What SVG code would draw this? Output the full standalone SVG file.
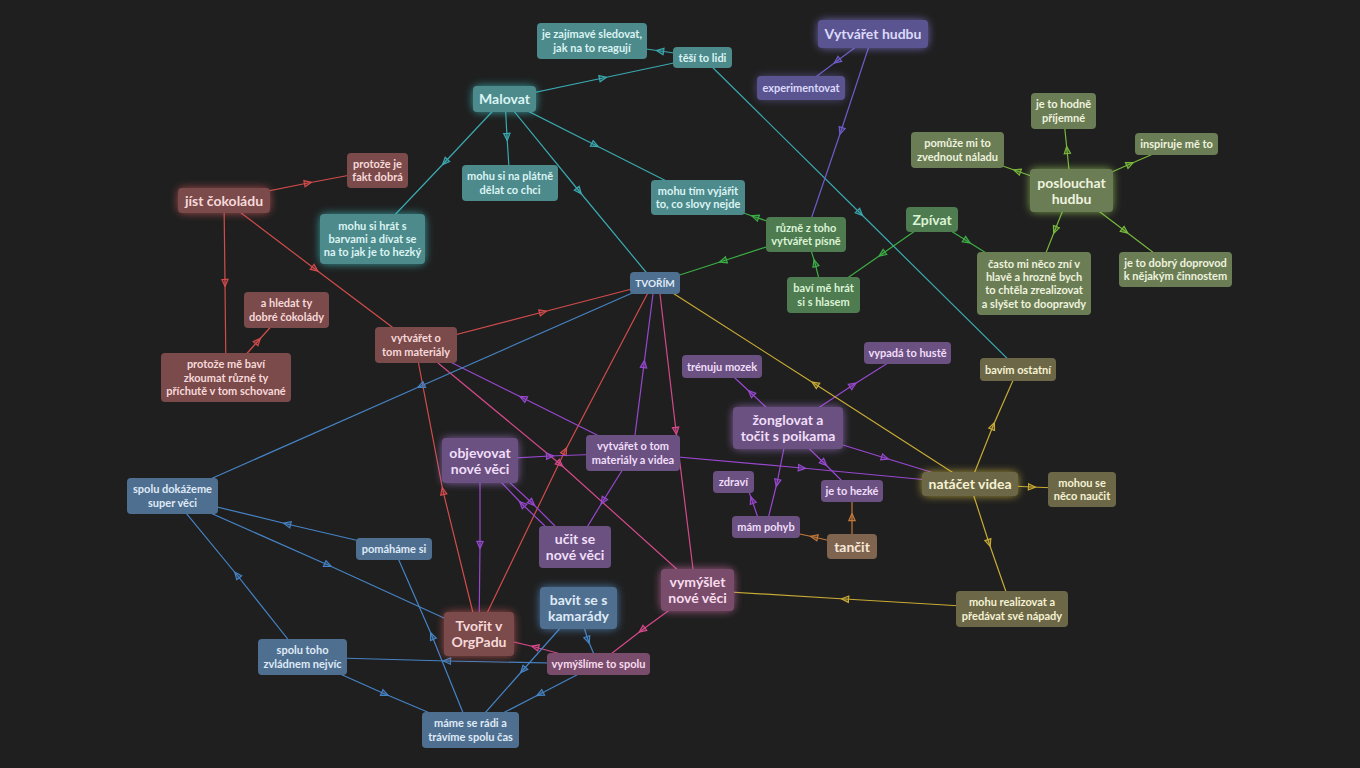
<svg xmlns="http://www.w3.org/2000/svg" width="1360" height="768" viewBox="0 0 1360 768">
<style>
text{font-family:Lato,"Noto Sans","DejaVu Sans",sans-serif;font-weight:700;text-anchor:middle}
.s{font-size:11px}.b{font-size:14px}.t{font-size:10px}
rect.box{rx:4;ry:4}
rect.gl{rx:6;ry:6;filter:url(#blur);opacity:.75}
.teal rect.box{fill:#4d8a8b}.teal text{fill:#dbf4f3}.teal rect.gl{fill:#3fc6c9}
.red rect.box{fill:#7b4a4b}.red text{fill:#f6d9d9}.red rect.gl{fill:#d05a5a}
.blue rect.box{fill:#4f6f90}.blue text{fill:#dfeaf6}.blue rect.gl{fill:#5a9ad8}
.green rect.box{fill:#4e7b50}.green text{fill:#dcf3d6}
.olive rect.box{fill:#6b7d55}.olive text{fill:#eef3df}.olive rect.gl{fill:#9ccc5a}
.purple rect.box{fill:#5a5491}.purple text{fill:#dcd9fa}.purple rect.gl{fill:#8a7ee0}
.violet rect.box{fill:#6b5082}.violet text{fill:#f0def8}.violet rect.gl{fill:#a878d0}
.mauve rect.box{fill:#7a4c6c}.mauve text{fill:#f7dcec}.mauve rect.gl{fill:#d070a8}
.brown rect.box{fill:#7f6450}.brown text{fill:#f8e8d8}
.khaki rect.box{fill:#6c6847}.khaki text{fill:#f6f2d4}.khaki rect.gl{fill:#d8c040}
#connectors path{fill:none;stroke-width:1.2}
.eT{stroke:#3aa9b0;marker-mid:url(#mT)}
.eG{stroke:#3cae45;marker-mid:url(#mG)}
.eL{stroke:#78b83c;marker-mid:url(#mL)}
.eP{stroke:#6c5cc8;marker-mid:url(#mP)}
.eR{stroke:#d24c4c;marker-mid:url(#mR)}
.eK{stroke:#d4498a;marker-mid:url(#mK)}
.eV{stroke:#9848d0;marker-mid:url(#mV)}
.eB{stroke:#c47a3a;marker-mid:url(#mB)}
.eY{stroke:#c8aa34;marker-mid:url(#mY)}
.eU{stroke:#4683c4;marker-mid:url(#mU)}
</style>
<defs>
<filter id="blur" x="-50%" y="-80%" width="200%" height="260%"><feGaussianBlur stdDeviation="4"/></filter>
<marker id="mT" viewBox="0 0 10 10" refX="5" refY="5" markerWidth="9" markerHeight="9" markerUnits="userSpaceOnUse" orient="auto"><path d="M1,1.5 L9,5 L1,8.5 Z" fill="#3aa9b0" fill-opacity=".3" stroke="#3aa9b0" stroke-width="1.3"/></marker>
<marker id="mG" viewBox="0 0 10 10" refX="5" refY="5" markerWidth="9" markerHeight="9" markerUnits="userSpaceOnUse" orient="auto"><path d="M1,1.5 L9,5 L1,8.5 Z" fill="#3cae45" fill-opacity=".3" stroke="#3cae45" stroke-width="1.3"/></marker>
<marker id="mL" viewBox="0 0 10 10" refX="5" refY="5" markerWidth="9" markerHeight="9" markerUnits="userSpaceOnUse" orient="auto"><path d="M1,1.5 L9,5 L1,8.5 Z" fill="#78b83c" fill-opacity=".3" stroke="#78b83c" stroke-width="1.3"/></marker>
<marker id="mP" viewBox="0 0 10 10" refX="5" refY="5" markerWidth="9" markerHeight="9" markerUnits="userSpaceOnUse" orient="auto"><path d="M1,1.5 L9,5 L1,8.5 Z" fill="#6c5cc8" fill-opacity=".3" stroke="#6c5cc8" stroke-width="1.3"/></marker>
<marker id="mR" viewBox="0 0 10 10" refX="5" refY="5" markerWidth="9" markerHeight="9" markerUnits="userSpaceOnUse" orient="auto"><path d="M1,1.5 L9,5 L1,8.5 Z" fill="#d24c4c" fill-opacity=".3" stroke="#d24c4c" stroke-width="1.3"/></marker>
<marker id="mK" viewBox="0 0 10 10" refX="5" refY="5" markerWidth="9" markerHeight="9" markerUnits="userSpaceOnUse" orient="auto"><path d="M1,1.5 L9,5 L1,8.5 Z" fill="#d4498a" fill-opacity=".3" stroke="#d4498a" stroke-width="1.3"/></marker>
<marker id="mV" viewBox="0 0 10 10" refX="5" refY="5" markerWidth="9" markerHeight="9" markerUnits="userSpaceOnUse" orient="auto"><path d="M1,1.5 L9,5 L1,8.5 Z" fill="#9848d0" fill-opacity=".3" stroke="#9848d0" stroke-width="1.3"/></marker>
<marker id="mB" viewBox="0 0 10 10" refX="5" refY="5" markerWidth="9" markerHeight="9" markerUnits="userSpaceOnUse" orient="auto"><path d="M1,1.5 L9,5 L1,8.5 Z" fill="#c47a3a" fill-opacity=".3" stroke="#c47a3a" stroke-width="1.3"/></marker>
<marker id="mY" viewBox="0 0 10 10" refX="5" refY="5" markerWidth="9" markerHeight="9" markerUnits="userSpaceOnUse" orient="auto"><path d="M1,1.5 L9,5 L1,8.5 Z" fill="#c8aa34" fill-opacity=".3" stroke="#c8aa34" stroke-width="1.3"/></marker>
<marker id="mU" viewBox="0 0 10 10" refX="5" refY="5" markerWidth="9" markerHeight="9" markerUnits="userSpaceOnUse" orient="auto"><path d="M1,1.5 L9,5 L1,8.5 Z" fill="#4683c4" fill-opacity=".3" stroke="#4683c4" stroke-width="1.3"/></marker>
</defs>
<rect width="1360" height="768" fill="#1f1f1f"/>
<g id="connectors">
<path class="eT" d="M702 57 L660 51 L592 41"/>
<path class="eT" d="M504 99 L603 78 L702 57"/>
<path class="eT" d="M702 57 L860 213 L1018 369"/>
<path class="eT" d="M504 99 L445 162 L372 239"/>
<path class="eT" d="M505 99 L507 137 L510 183"/>
<path class="eT" d="M504 99 L579 191 L655 283"/>
<path class="eT" d="M504 99 L595 145 L698 197"/>
<path class="eG" d="M806 234 L755 217 L698 197"/>
<path class="eG" d="M806 234 L723 261 L655 283"/>
<path class="eG" d="M932 219 L882 254 L823 295"/>
<path class="eG" d="M932 219 L967 241 L1034 283"/>
<path class="eG" d="M823 295 L815 263 L806 234"/>
<path class="eL" d="M1071 190 L1067 150 L1063 111"/>
<path class="eL" d="M1071 190 L1130 164 L1176 144"/>
<path class="eL" d="M1071 190 L1017 171 L957 150"/>
<path class="eL" d="M1071 190 L1055 230 L1034 283"/>
<path class="eL" d="M1071 190 L1125 231 L1175 269"/>
<path class="eP" d="M873 34 L837 61 L801 88"/>
<path class="eP" d="M873 34 L841 131 L806 234"/>
<path class="eR" d="M224 200 L308 183 L377 170"/>
<path class="eR" d="M224 200 L225 283 L226 377"/>
<path class="eR" d="M224 200 L315 269 L416 345"/>
<path class="eR" d="M226 377 L258 341 L286 310"/>
<path class="eR" d="M416 345 L543 312 L655 283"/>
<path class="eR" d="M476 625 L443 491 L416 350"/>
<path class="eR" d="M477 634 L565 451 L652 285"/>
<path class="eK" d="M438 363 L560 464 L680 572"/>
<path class="eK" d="M660 294 L676 431 L693 569"/>
<path class="eK" d="M598 664 L535 647 L479 634"/>
<path class="eK" d="M697 590 L642 630 L598 664"/>
<path class="eV" d="M635 435 L644 364 L653 294"/>
<path class="eV" d="M633 453 L523 398 L416 345"/>
<path class="eV" d="M480 460 L550 456 L633 453"/>
<path class="eV" d="M480 460 L480 545 L479 634"/>
<path class="eV" d="M508 481 L532 503 L555 526"/>
<path class="eV" d="M545 526 L522 504 L500 481"/>
<path class="eV" d="M633 453 L603 501 L575 547"/>
<path class="eV" d="M633 453 L802 468 L970 484"/>
<path class="eV" d="M788 428 L885 458 L970 484"/>
<path class="eV" d="M788 428 L751 393 L722 366"/>
<path class="eV" d="M788 428 L853 385 L907 351"/>
<path class="eV" d="M788 428 L824 463 L852 491"/>
<path class="eV" d="M788 428 L777 483 L766 527"/>
<path class="eV" d="M758 518 L752 500 L746 484"/>
<path class="eB" d="M852 546 L852 517 L852 491"/>
<path class="eB" d="M852 546 L814 537 L766 527"/>
<path class="eY" d="M955 474 L815 384 L668 290"/>
<path class="eY" d="M970 484 L993 426 L1018 369"/>
<path class="eY" d="M970 484 L1032 487 L1082 489"/>
<path class="eY" d="M970 484 L989 543 L1012 609"/>
<path class="eY" d="M1012 609 L845 599 L697 590"/>
<path class="eU" d="M655 283 L421 386 L172 496"/>
<path class="eU" d="M394 549 L287 524 L172 496"/>
<path class="eU" d="M172 496 L328 565 L479 634"/>
<path class="eU" d="M302 657 L237 575 L172 496"/>
<path class="eU" d="M598 664 L447 661 L302 657"/>
<path class="eU" d="M302 657 L385 694 L470 730"/>
<path class="eU" d="M470 730 L432 636 L394 549"/>
<path class="eU" d="M578 608 L523 670 L470 730"/>
<path class="eU" d="M578 608 L588 640 L598 664"/>
<path class="eU" d="M598 664 L540 694 L470 730"/>
</g>
<g id="malovat" class="teal"><rect class="gl" x="473" y="86" width="63" height="26"/><rect class="box" x="473" y="86" width="63" height="26"/><text class="b" x="504.5" y="104">Malovat</text></g>
<g id="zajimave" class="teal"><rect class="box" x="537" y="23" width="110" height="36"/><text class="s"><tspan x="592" y="38.4">je zajímavé sledovat,</tspan><tspan x="592" y="51.7">jak na to reagují</tspan></text></g>
<g id="tesi" class="teal"><rect class="box" x="673" y="47" width="59" height="21"/><text class="s" x="702.5" y="61.5">těší to lidi</text></g>
<g id="platne" class="teal"><rect class="box" x="462" y="165" width="96" height="36"/><text class="s"><tspan x="510" y="180.4">mohu si na plátně</tspan><tspan x="510" y="193.7">dělat co chci</tspan></text></g>
<g id="vyjarit" class="teal"><rect class="box" x="651" y="180" width="94" height="35"/><text class="s"><tspan x="698" y="194.9">mohu tím vyjářit</tspan><tspan x="698" y="208.2">to, co slovy nejde</tspan></text></g>
<g id="barvami" class="teal"><rect class="gl" x="320" y="214" width="105" height="50"/><rect class="box" x="320" y="214" width="105" height="50"/><text class="s"><tspan x="372.5" y="229.7">mohu si hrát s</tspan><tspan x="372.5" y="243">barvami a dívat se</tspan><tspan x="372.5" y="256.3">na to jak je to hezký</tspan></text></g>
<g id="cokolada" class="red"><rect class="gl" x="178" y="188" width="92" height="25"/><rect class="box" x="178" y="188" width="92" height="25"/><text class="b" x="224" y="205.5">jíst čokoládu</text></g>
<g id="dobra" class="red"><rect class="box" x="347" y="153" width="61" height="35"/><text class="s"><tspan x="377.5" y="167.9">protože je</tspan><tspan x="377.5" y="181.2">fakt dobrá</tspan></text></g>
<g id="hledat" class="red"><rect class="box" x="244" y="292" width="85" height="36"/><text class="s"><tspan x="286.5" y="307.4">a hledat ty</tspan><tspan x="286.5" y="320.7">dobré čokolády</tspan></text></g>
<g id="zkoumat" class="red"><rect class="box" x="161" y="353" width="130" height="49"/><text class="s"><tspan x="226" y="368.2">protože mě baví</tspan><tspan x="226" y="381.5">zkoumat různé ty</tspan><tspan x="226" y="394.8">příchutě v tom schované</tspan></text></g>
<g id="materialy" class="red"><rect class="box" x="375" y="327" width="82" height="36"/><text class="s"><tspan x="416" y="342.4">vytvářet o</tspan><tspan x="416" y="355.7">tom materiály</tspan></text></g>
<g id="orgpad" class="red"><rect class="gl" x="444" y="612" width="70" height="44"/><rect class="box" x="444" y="612" width="70" height="44"/><text class="b"><tspan x="479" y="631">Tvořit v</tspan><tspan x="479" y="647">OrgPadu</tspan></text></g>
<g id="tvorim" class="blue"><rect class="box" x="630" y="272" width="50" height="22"/><text class="t" x="655" y="286.6">TVOŘÍM</text></g>
<g id="zpivat" class="green"><rect class="box" x="906" y="207" width="52" height="25"/><text class="b" x="932" y="224.5">Zpívat</text></g>
<g id="pisne" class="green"><rect class="box" x="766" y="217" width="80" height="35"/><text class="s"><tspan x="806" y="231.9">různě z toho</tspan><tspan x="806" y="245.2">vytvářet písně</tspan></text></g>
<g id="hlasem" class="green"><rect class="box" x="787" y="277" width="73" height="36"/><text class="s"><tspan x="823.5" y="292.4">baví mě hrát</tspan><tspan x="823.5" y="305.7">si s hlasem</tspan></text></g>
<g id="poslouchat" class="olive"><rect class="gl" x="1030" y="169" width="83" height="43"/><rect class="box" x="1030" y="169" width="83" height="43"/><text class="b"><tspan x="1071.5" y="187.5">poslouchat</tspan><tspan x="1071.5" y="203.5">hudbu</tspan></text></g>
<g id="prijemne" class="olive"><rect class="box" x="1031" y="93" width="65" height="36"/><text class="s"><tspan x="1063.5" y="108.4">je to hodně</tspan><tspan x="1063.5" y="121.7">příjemné</tspan></text></g>
<g id="inspiruje" class="olive"><rect class="box" x="1135" y="133" width="83" height="22"/><text class="s" x="1176.5" y="148">inspiruje mě to</text></g>
<g id="naladu" class="olive"><rect class="box" x="911" y="132" width="93" height="36"/><text class="s"><tspan x="957.5" y="147.4">pomůže mi to</tspan><tspan x="957.5" y="160.7">zvednout náladu</tspan></text></g>
<g id="casto" class="olive"><rect class="box" x="977" y="252" width="114" height="63"/><text class="s"><tspan x="1034" y="267.6">často mi něco zní v</tspan><tspan x="1034" y="280.9">hlavě a hrozně bych</tspan><tspan x="1034" y="294.2">to chtěla zrealizovat</tspan><tspan x="1034" y="307.5">a slyšet to doopravdy</tspan></text></g>
<g id="doprovod" class="olive"><rect class="box" x="1119" y="252" width="113" height="35"/><text class="s"><tspan x="1175.5" y="266.9">je to dobrý doprovod</tspan><tspan x="1175.5" y="280.2">k nějakým činnostem</tspan></text></g>
<g id="hudbu" class="purple"><rect class="gl" x="818" y="20" width="110" height="28"/><rect class="box" x="818" y="20" width="110" height="28"/><text class="b" x="873" y="39">Vytvářet hudbu</text></g>
<g id="experiment" class="purple"><rect class="gl" x="757" y="76" width="88" height="24" style="opacity:.45"/><rect class="box" x="757" y="76" width="88" height="24"/><text class="s" x="801" y="92">experimentovat</text></g>
<g id="objevovat" class="violet"><rect class="gl" x="442" y="438" width="76" height="45"/><rect class="box" x="442" y="438" width="76" height="45"/><text class="b"><tspan x="480" y="457.5">objevovat</tspan><tspan x="480" y="473.5">nové věci</tspan></text></g>
<g id="videa" class="violet"><rect class="box" x="586" y="435" width="94" height="36"/><text class="s"><tspan x="633" y="450.4">vytvářet o tom</tspan><tspan x="633" y="463.7">materiály a videa</tspan></text></g>
<g id="ucit" class="violet"><rect class="box" x="539" y="526" width="72" height="42"/><text class="b"><tspan x="575" y="544">učit se</tspan><tspan x="575" y="560">nové věci</tspan></text></g>
<g id="zonglovat" class="violet"><rect class="gl" x="733" y="407" width="110" height="42"/><rect class="box" x="733" y="407" width="110" height="42"/><text class="b"><tspan x="788" y="425">žonglovat a</tspan><tspan x="788" y="441">točit s poikama</tspan></text></g>
<g id="mozek" class="violet"><rect class="box" x="682" y="355" width="80" height="23"/><text class="s" x="722" y="370.5">trénuju mozek</text></g>
<g id="huste" class="violet"><rect class="box" x="864" y="342" width="87" height="22"/><text class="s" x="907.5" y="357">vypadá to hustě</text></g>
<g id="zdravi" class="violet"><rect class="box" x="713" y="471" width="41" height="22"/><text class="s" x="733.5" y="486">zdraví</text></g>
<g id="hezke" class="violet"><rect class="box" x="821" y="480" width="62" height="22"/><text class="s" x="852" y="495">je to hezké</text></g>
<g id="pohyb" class="violet"><rect class="box" x="732" y="516" width="68" height="22"/><text class="s" x="766" y="531">mám pohyb</text></g>
<g id="tancit" class="brown"><rect class="box" x="827" y="534" width="50" height="25"/><text class="b" x="852" y="551.5">tančit</text></g>
<g id="vymyslet" class="mauve"><rect class="gl" x="661" y="569" width="73" height="42"/><rect class="box" x="661" y="569" width="73" height="42"/><text class="b"><tspan x="697.5" y="587">vymýšlet</tspan><tspan x="697.5" y="603">nové věci</tspan></text></g>
<g id="spolu" class="mauve"><rect class="box" x="547" y="653" width="103" height="22"/><text class="s" x="598.5" y="668">vymýšlíme to spolu</text></g>
<g id="kamarady" class="blue"><rect class="gl" x="540" y="587" width="77" height="42"/><rect class="box" x="540" y="587" width="77" height="42"/><text class="b"><tspan x="578.5" y="605">bavit se s</tspan><tspan x="578.5" y="621">kamarády</tspan></text></g>
<g id="pomahame" class="blue"><rect class="box" x="356" y="538" width="76" height="22"/><text class="s" x="394" y="553">pomáháme si</text></g>
<g id="mame" class="blue"><rect class="box" x="422" y="712" width="97" height="36"/><text class="s"><tspan x="470.5" y="727.4">máme se rádi a</tspan><tspan x="470.5" y="740.7">trávíme spolu čas</tspan></text></g>
<g id="zvladnem" class="blue"><rect class="box" x="258" y="639" width="89" height="36"/><text class="s"><tspan x="302.5" y="654.4">spolu toho</tspan><tspan x="302.5" y="667.7">zvládnem nejvíc</tspan></text></g>
<g id="dokazeme" class="blue"><rect class="box" x="127" y="478" width="91" height="36"/><text class="s"><tspan x="172.5" y="493.4">spolu dokážeme</tspan><tspan x="172.5" y="506.7">super věci</tspan></text></g>
<g id="natacet" class="khaki"><rect class="gl" x="922" y="472" width="96" height="24"/><rect class="box" x="922" y="472" width="96" height="24"/><text class="b" x="970" y="489">natáčet videa</text></g>
<g id="ostatni" class="khaki"><rect class="box" x="980" y="358" width="76" height="23"/><text class="s" x="1018" y="373.5">bavím ostatní</text></g>
<g id="naucit" class="khaki"><rect class="box" x="1048" y="472" width="68" height="35"/><text class="s"><tspan x="1082" y="486.9">mohou se</tspan><tspan x="1082" y="500.2">něco naučit</tspan></text></g>
<g id="realizovat" class="khaki"><rect class="box" x="956" y="591" width="112" height="36"/><text class="s"><tspan x="1012" y="606.4">mohu realizovat a</tspan><tspan x="1012" y="619.7">předávat své nápady</tspan></text></g>
</svg>
